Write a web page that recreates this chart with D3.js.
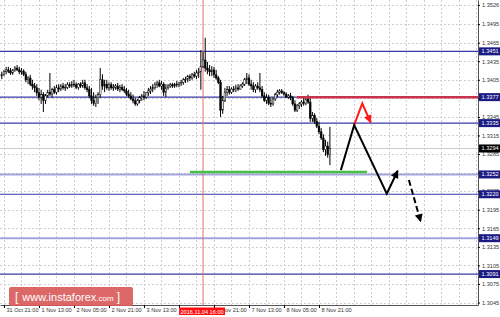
<!doctype html>
<html lang="en">
  <head>
    <meta charset="utf-8">
    <title>USDCAD H1</title>
    <style>
      body{margin:0;background:#fff;}
      svg{display:block;}
      text{font-family:"Liberation Sans",Arial,sans-serif;}
    </style>
  </head>
  <body>
    <script src="https://cdn.jsdelivr.net/npm/d3@7"></script>
    <script>

      // hourly candles, [open, high, low, close]
      var candles = [
        [1.3411,1.3418,1.3406,1.3414],[1.3414,1.3421,1.3411,1.3418],[1.3418,1.3426,1.3414,1.3421],[1.3421,1.3426,1.3416,1.3419],
        [1.3419,1.3424,1.3413,1.3416],[1.3416,1.3422,1.3413,1.3421],[1.3421,1.3427,1.3418,1.3424],[1.3424,1.3429,1.3419,1.3421],
        [1.3421,1.3426,1.3414,1.3418],[1.3418,1.3424,1.3413,1.3419],[1.3419,1.3422,1.3411,1.3414],[1.3414,1.3418,1.3401,1.3405],
        [1.3405,1.3411,1.3398,1.3408],[1.3408,1.3413,1.3395,1.3398],[1.3398,1.3405,1.3389,1.3395],[1.3395,1.3400,1.3385,1.3392],
        [1.3392,1.3398,1.3379,1.3384],[1.3384,1.3392,1.3372,1.3377],[1.3377,1.3389,1.3366,1.3381],[1.3381,1.3385,1.3353,1.3372],
        [1.3372,1.3382,1.3366,1.3379],[1.3379,1.3389,1.3376,1.3385],[1.3385,1.3416,1.3379,1.3382],[1.3382,1.3392,1.3376,1.3389],
        [1.3389,1.3395,1.3382,1.3385],[1.3385,1.3397,1.3381,1.3392],[1.3392,1.3398,1.3385,1.3390],[1.3390,1.3398,1.3387,1.3395],
        [1.3395,1.3400,1.3389,1.3392],[1.3392,1.3398,1.3387,1.3393],[1.3393,1.3401,1.3390,1.3397],[1.3397,1.3401,1.3392,1.3395],
        [1.3395,1.3403,1.3392,1.3398],[1.3398,1.3405,1.3393,1.3397],[1.3397,1.3401,1.3390,1.3393],[1.3393,1.3400,1.3389,1.3398],
        [1.3398,1.3401,1.3392,1.3395],[1.3395,1.3405,1.3392,1.3400],[1.3400,1.3405,1.3389,1.3392],[1.3392,1.3398,1.3385,1.3389],
        [1.3389,1.3395,1.3376,1.3379],[1.3379,1.3392,1.3366,1.3372],[1.3372,1.3385,1.3363,1.3367],[1.3367,1.3381,1.3361,1.3376],
        [1.3376,1.3385,1.3366,1.3381],[1.3381,1.3424,1.3376,1.3405],[1.3405,1.3414,1.3389,1.3395],[1.3395,1.3405,1.3385,1.3398],
        [1.3398,1.3405,1.3389,1.3392],[1.3392,1.3401,1.3387,1.3397],[1.3397,1.3401,1.3389,1.3392],[1.3392,1.3398,1.3387,1.3393],
        [1.3393,1.3398,1.3389,1.3395],[1.3395,1.3400,1.3387,1.3390],[1.3390,1.3397,1.3385,1.3393],[1.3393,1.3398,1.3387,1.3389],
        [1.3389,1.3395,1.3384,1.3387],[1.3387,1.3392,1.3379,1.3382],[1.3382,1.3389,1.3376,1.3379],[1.3379,1.3385,1.3372,1.3374],
        [1.3374,1.3381,1.3367,1.3371],[1.3371,1.3376,1.3363,1.3366],[1.3366,1.3374,1.3363,1.3371],[1.3371,1.3379,1.3367,1.3376],
        [1.3376,1.3382,1.3371,1.3379],[1.3379,1.3387,1.3372,1.3377],[1.3377,1.3385,1.3374,1.3384],[1.3384,1.3392,1.3379,1.3387],
        [1.3387,1.3395,1.3382,1.3390],[1.3390,1.3398,1.3385,1.3393],[1.3393,1.3401,1.3389,1.3397],[1.3397,1.3403,1.3392,1.3400],
        [1.3400,1.3405,1.3393,1.3395],[1.3395,1.3403,1.3389,1.3398],[1.3398,1.3401,1.3379,1.3385],[1.3385,1.3398,1.3377,1.3392],
        [1.3392,1.3398,1.3389,1.3395],[1.3395,1.3400,1.3392,1.3397],[1.3397,1.3400,1.3392,1.3395],[1.3395,1.3400,1.3392,1.3398],
        [1.3398,1.3403,1.3393,1.3397],[1.3397,1.3401,1.3393,1.3400],[1.3400,1.3405,1.3395,1.3401],[1.3401,1.3408,1.3397,1.3405],
        [1.3405,1.3410,1.3400,1.3406],[1.3406,1.3413,1.3401,1.3410],[1.3410,1.3414,1.3403,1.3408],[1.3408,1.3416,1.3405,1.3413],
        [1.3413,1.3418,1.3408,1.3411],[1.3411,1.3421,1.3406,1.3416],[1.3416,1.3424,1.3408,1.3418],[1.3418,1.3453,1.3389,1.3427],
        [1.3427,1.3450,1.3424,1.3437],[1.3437,1.3473,1.3418,1.3424],[1.3424,1.3434,1.3414,1.3421],[1.3421,1.3429,1.3411,1.3418],
        [1.3418,1.3427,1.3411,1.3421],[1.3421,1.3426,1.3408,1.3413],[1.3413,1.3421,1.3405,1.3408],[1.3408,1.3411,1.3398,1.3401],
        [1.3401,1.3405,1.3345,1.3356],[1.3356,1.3379,1.3350,1.3372],[1.3372,1.3392,1.3369,1.3385],[1.3385,1.3395,1.3379,1.3389],
        [1.3389,1.3395,1.3381,1.3385],[1.3385,1.3393,1.3382,1.3390],[1.3390,1.3395,1.3385,1.3389],[1.3389,1.3397,1.3385,1.3392],
        [1.3392,1.3398,1.3387,1.3390],[1.3390,1.3398,1.3389,1.3395],[1.3395,1.3401,1.3392,1.3398],[1.3398,1.3408,1.3395,1.3405],
        [1.3405,1.3416,1.3398,1.3408],[1.3408,1.3414,1.3395,1.3398],[1.3398,1.3405,1.3389,1.3395],[1.3395,1.3401,1.3385,1.3389],
        [1.3389,1.3398,1.3384,1.3395],[1.3395,1.3401,1.3389,1.3392],[1.3392,1.3416,1.3385,1.3389],[1.3389,1.3395,1.3376,1.3379],
        [1.3379,1.3385,1.3369,1.3372],[1.3372,1.3382,1.3366,1.3376],[1.3376,1.3381,1.3364,1.3367],[1.3367,1.3376,1.3361,1.3366],
        [1.3366,1.3377,1.3363,1.3374],[1.3374,1.3384,1.3371,1.3381],[1.3381,1.3389,1.3377,1.3385],[1.3385,1.3390,1.3381,1.3387],
        [1.3387,1.3390,1.3382,1.3384],[1.3384,1.3387,1.3379,1.3382],[1.3382,1.3385,1.3376,1.3377],[1.3377,1.3382,1.3374,1.3379],
        [1.3379,1.3384,1.3372,1.3376],[1.3376,1.3379,1.3363,1.3366],[1.3366,1.3372,1.3353,1.3356],[1.3356,1.3366,1.3353,1.3363],
        [1.3363,1.3369,1.3358,1.3366],[1.3366,1.3372,1.3361,1.3369],[1.3369,1.3376,1.3363,1.3367],[1.3367,1.3379,1.3364,1.3374],
        [1.3374,1.3381,1.3366,1.3369],[1.3369,1.3376,1.3337,1.3343],[1.3343,1.3353,1.3337,1.3347],[1.3347,1.3351,1.3334,1.3338],
        [1.3338,1.3343,1.3327,1.3330],[1.3330,1.3337,1.3317,1.3321],[1.3321,1.3327,1.3308,1.3311],[1.3311,1.3317,1.3288,1.3292],
        [1.3292,1.3308,1.3282,1.3298],[1.3298,1.3305,1.3279,1.3284],[1.3284,1.3329,1.3267,1.3294]
      ];

      // bar index of each time label
      var timeTicks  = [1, 17, 33, 49, 65, 81, 97, 113, 129, 145];
      var timeLabels = ["31 Oct 21:00", "1 Nov 13:00", "2 Nov 05:00", "2 Nov 21:00", "3 Nov 13:00",
                        "4 Nov 05:00", "4 Nov 21:00", "7 Nov 13:00", "8 Nov 05:00", "8 Nov 21:00"];
      var priceTicks = [1.3526, 1.3495, 1.3465, 1.3435, 1.3405, 1.3375, 1.3345, 1.3315, 1.3285,
                        1.3255, 1.3225, 1.3195, 1.3165, 1.3135, 1.3105, 1.3075, 1.3045];

      var levels      = [1.3451, 1.3377, 1.3335, 1.3220, 1.3091];
      var softLevels  = [1.3252, 1.3149];
      var levelLabels = [1.3451, 1.3377, 1.3335, 1.3252, 1.3220, 1.3149, 1.3091];
      var lastPrice   = 1.3294;
      var markerBar   = 92, markerLabel = "2016.11.04 16:00";

      // drawn objects: [bar, price]
      var resistance = [[135, 1.3377], [218, 1.3377]];
      var support    = [[86, 1.3256], [167, 1.3256]];
      var mainPath   = [[155, 1.3259], [161.1, 1.3332], [176, 1.3221], [181, 1.3258]];
      var altPath    = [[161.1, 1.3332], [164.8, 1.3367], [168.6, 1.3336]];
      var breakPath  = [[186.1, 1.3243], [191.5, 1.3176]];

      var width = 500, height = 317, plotR = 478, plotB = 305;
      var fs = 5.6;

      var svg = d3.select("body")
        .append("svg")
        .attr("width", width)
        .attr("height", height);

      var x = d3.scaleLinear().domain([-0.82, 217.7]).range([0, plotR]);
      var y = d3.scaleLinear().domain([1.3041, 1.3534]).range([plotB, 0]);

      var defs = svg.append("defs");
      function arrowHead(id, color){
        defs.append("marker")
          .attr("id", id)
          .attr("viewBox", "0 0 10 10")
          .attr("refX", 9).attr("refY", 5)
          .attr("markerUnits", "userSpaceOnUse")
          .attr("markerWidth", 9).attr("markerHeight", 8)
          .attr("orient", "auto")
          .append("path")
          .attr("d", "M0,0 L10,5 L0,10 z")
          .attr("fill", color);
      }
      arrowHead("headBlack", "#000");
      arrowHead("headRed", "#ff1a1a");

      // grid
      var grid = svg.append("g")
        .attr("stroke", "#cfcfcf")
        .attr("stroke-dasharray", "2,2")
        .attr("shape-rendering", "crispEdges");
      grid.selectAll(".h").data(priceTicks).enter().append("line")
        .attr("x1", 0).attr("x2", plotR)
        .attr("y1", function(d){ return Math.round(y(d)) + 0.5; })
        .attr("y2", function(d){ return Math.round(y(d)) + 0.5; });
      grid.selectAll(".v").data(d3.range(1, 218, 8)).enter().append("line")
        .attr("y1", 0).attr("y2", plotB)
        .attr("x1", function(d){ return Math.round(x(d)) + 0.5; })
        .attr("x2", function(d){ return Math.round(x(d)) + 0.5; });

      // last price line
      svg.append("line")
        .attr("x1", 0).attr("x2", plotR)
        .attr("y1", y(lastPrice)).attr("y2", y(lastPrice))
        .attr("stroke", "#cccccc");

      // levels
      svg.selectAll(".soft").data(softLevels).enter().append("line")
        .attr("x1", 0).attr("x2", plotR)
        .attr("y1", function(d){ return y(d); })
        .attr("y2", function(d){ return y(d); })
        .attr("stroke", "#a4a4dc").attr("stroke-width", 2);
      svg.selectAll(".lvl").data(levels).enter().append("line")
        .attr("x1", 0).attr("x2", plotR)
        .attr("y1", function(d){ return y(d); })
        .attr("y2", function(d){ return y(d); })
        .attr("stroke", "#3a3aa8").attr("stroke-width", 1.2);

      // time marker
      svg.append("line")
        .attr("x1", x(markerBar)).attr("x2", x(markerBar))
        .attr("y1", 0).attr("y2", plotB)
        .attr("stroke", "#e86a6a");

      // candles
      var bw = 1.7;
      var bars = svg.append("g").selectAll("g").data(candles).enter().append("g");
      bars.append("line")
        .attr("x1", function(d,i){ return x(i); })
        .attr("x2", function(d,i){ return x(i); })
        .attr("y1", function(d){ return y(d[1]); })
        .attr("y2", function(d){ return y(d[2]); })
        .attr("stroke", "#000").attr("stroke-width", 1);
      bars.append("rect")
        .attr("x", function(d,i){ return x(i) - bw/2; })
        .attr("y", function(d){ return y(Math.max(d[0], d[3])); })
        .attr("width", bw)
        .attr("height", function(d){ return Math.max(0.8, Math.abs(y(d[0]) - y(d[3]))); })
        .attr("fill", function(d){ return d[3] >= d[0] ? "#fff" : "#000"; })
        .attr("stroke", "#000").attr("stroke-width", 0.5);

      var line = d3.line()
        .x(function(d){ return x(d[0]); })
        .y(function(d){ return y(d[1]); });

      svg.append("path").attr("d", line(resistance))
        .attr("fill", "none").attr("stroke", "#c8324c").attr("stroke-width", 2.5);
      svg.append("path").attr("d", line(support))
        .attr("fill", "none").attr("stroke", "#46c046").attr("stroke-width", 2.5);

      svg.append("path").attr("d", line(altPath))
        .attr("fill", "none").attr("stroke", "#ff1a1a").attr("stroke-width", 2)
        .attr("marker-end", "url(#headRed)");
      svg.append("path").attr("d", line(mainPath))
        .attr("fill", "none").attr("stroke", "#000").attr("stroke-width", 2)
        .attr("stroke-linejoin", "miter")
        .attr("marker-end", "url(#headBlack)");
      svg.append("path").attr("d", line(breakPath))
        .attr("fill", "none").attr("stroke", "#000").attr("stroke-width", 2)
        .attr("stroke-dasharray", "6,3")
        .attr("marker-end", "url(#headBlack)");

      // axes
      var yAxis = svg.append("g")
        .attr("transform", "translate(" + plotR + ",0)")
        .call(d3.axisRight(y).tickValues(priceTicks).tickSize(2).tickSizeOuter(0)
          .tickFormat(d3.format(".4f")));
      yAxis.selectAll("text").attr("x", 4).attr("font-size", fs).attr("fill", "#333")
        .attr("font-family", "Liberation Sans");

      var xAxis = svg.append("g")
        .attr("transform", "translate(0," + plotB + ")")
        .call(d3.axisBottom(x).tickValues(timeTicks).tickSize(3).tickSizeOuter(0)
          .tickFormat(function(d,i){ return timeLabels[i]; }));
      xAxis.selectAll("text").attr("y", 3.5).attr("x", 2).attr("text-anchor", "start")
        .attr("font-size", fs).attr("fill", "#333").attr("font-family", "Liberation Sans");
      svg.selectAll(".domain").attr("stroke", "#555");

      // price labels
      var tags = svg.append("g").selectAll("g").data(levelLabels).enter().append("g")
        .attr("transform", function(d){ return "translate(" + (plotR + 1) + "," + y(d) + ")"; });
      tags.append("rect").attr("x", 0).attr("y", -4).attr("width", 21).attr("height", 8)
        .attr("fill", "#1b1b84");
      tags.append("text").attr("x", 2.5).attr("dy", "0.35em")
        .attr("font-size", fs).attr("fill", "#fff")
        .text(function(d){ return d.toFixed(4); });

      var lastTag = svg.append("g")
        .attr("transform", "translate(" + (plotR + 1) + "," + y(lastPrice) + ")");
      lastTag.append("rect").attr("y", -4).attr("width", 21).attr("height", 8).attr("fill", "#000");
      lastTag.append("text").attr("x", 2.5).attr("dy", "0.35em")
        .attr("font-size", fs).attr("fill", "#fff").text(lastPrice.toFixed(4));

      var timeTag = svg.append("g")
        .attr("transform", "translate(" + x(markerBar) + "," + (plotB + 2.5) + ")");
      timeTag.append("rect").attr("x", -24).attr("width", 46).attr("height", 7.5).attr("fill", "#ff1010");
      timeTag.append("text").attr("x", -1).attr("y", 6).attr("text-anchor", "middle")
        .attr("font-size", fs).attr("fill", "#fff").text(markerLabel);

      // watermark
      svg.append("rect")
        .attr("x", 9).attr("y", 287).attr("width", 124).attr("height", 19).attr("rx", 2)
        .attr("fill", "#d85858").attr("opacity", 0.9);
      var wm = svg.append("text").attr("x", 15).attr("y", 301).attr("fill", "#fff");
      wm.append("tspan").attr("font-size", 12).text("[");
      wm.append("tspan").attr("dx", 4).attr("font-size", 11).text("www.instaforex");
      wm.append("tspan").attr("font-size", 8).text(".com");
      wm.append("tspan").attr("dx", 3).attr("font-size", 12).text("]");

    </script>
  </body>
</html>
